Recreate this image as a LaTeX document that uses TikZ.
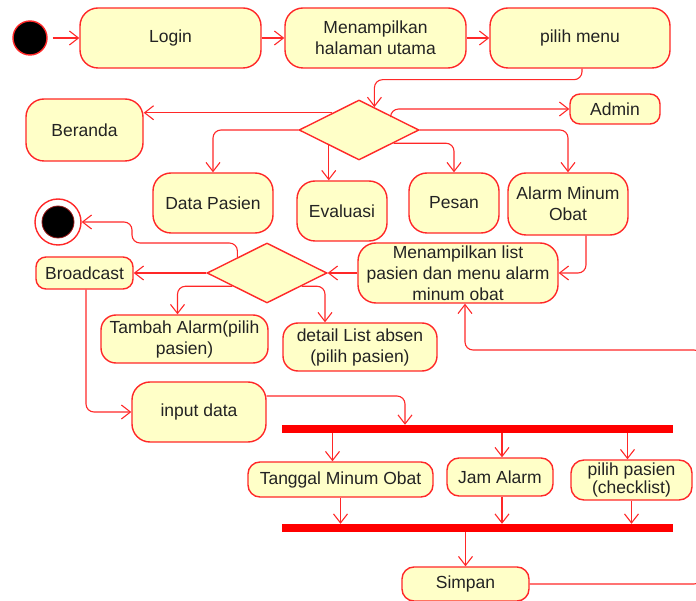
\documentclass[tikz,border=0pt]{standalone}
\usepackage{fontspec}
\setmainfont{Liberation Sans}
\usetikzlibrary{shapes.geometric,arrows.meta}
\definecolor{umlfill}{RGB}{255,255,200}
\definecolor{umlline}{RGB}{255,40,40}
\definecolor{umltext}{RGB}{35,35,35}
\begin{document}
\begin{tikzpicture}[x=1pt,y=-1pt,
  font=\fontsize{17.5}{21}\selectfont, text=umltext,
  act/.style={rectangle, rounded corners=18pt, draw=umlline, line width=1.4pt, fill=umlfill, inner sep=0pt, align=center},
  choice/.style={diamond, draw=umlline, line width=1.4pt, fill=umlfill, inner sep=0pt, minimum width=120pt, minimum height=60pt},
  bar/.style={rectangle, fill=red, inner sep=0pt, minimum width=391pt, minimum height=8pt},
  flow/.style={draw=umlline, line width=1.1pt, rounded corners=8pt, -{Straight Barb[length=9pt,width=14pt]}}]
\useasboundingbox (0,0) rectangle (696,601);
\clip (0,0) rectangle (696,601);
\node[circle, fill=black, draw=umlline, line width=1.4pt, minimum size=34pt] (start) at (30,38){};
\node[act, minimum width=181pt, minimum height=60pt] (login) at (170.5,38){Login};
\node[act, minimum width=181pt, minimum height=60pt] (tampil) at (375.5,38){Menampilkan\\halaman utama};
\node[act, minimum width=180pt, minimum height=60pt] (menu) at (580,38){pilih menu};
\node[choice] (pilihan) at (359,130){};
\node[act, minimum width=117pt, minimum height=62pt] (beranda) at (84.5,130){Beranda};
\node[act, rounded corners=10pt, minimum width=90pt, minimum height=30pt] (admin) at (615,109){Admin};
\node[act, minimum width=120pt, minimum height=60pt] (pasien) at (213,203){Data Pasien};
\node[act, minimum width=90pt, minimum height=60pt] (evaluasi) at (342,211){Evaluasi};
\node[act, minimum width=90pt, minimum height=60pt] (pesan) at (454,203){Pesan};
\node[act, minimum width=120pt, minimum height=62pt] (alarm) at (568,204){Alarm Minum\\Obat};
\node[act, minimum width=200pt, minimum height=60pt] (listmenu) at (458,273){Menampilkan list\\pasien dan menu alarm\\minum obat};
\node[choice] (pilihan2) at (267,273){};
\node[circle, fill=white, draw=umlline, line width=1.4pt, minimum size=46pt] (stop) at (58,222){};
\node[circle, fill=black, draw=umlline!60!black, line width=0.8pt, minimum size=32pt] (stopdot) at (stop){};
\node[act, rounded corners=10pt, minimum width=97pt, minimum height=32pt] (broadcast) at (84.5,273){Broadcast};
\node[act, rounded corners=15pt, minimum width=167pt, minimum height=48pt] (tambah) at (184.5,339){Tambah Alarm(pilih\\pasien)};
\node[act, rounded corners=15pt, minimum width=154pt, minimum height=48pt] (absen) at (360,347){detail List absen\\(pilih pasien)};
\node[act, minimum width=134pt, minimum height=60pt] (input) at (199,412){input data};
\node[bar] (fork) at (477.5,429){};
\node[act, rounded corners=12pt, minimum width=185pt, minimum height=35pt] (tanggal) at (340.5,479.5){Tanggal Minum Obat};
\node[act, rounded corners=12pt, minimum width=106pt, minimum height=38pt] (jam) at (500,477){Jam Alarm};
\node[act, rounded corners=13pt, minimum width=121pt, minimum height=40pt, font=\fontsize{17.5}{18}\selectfont] (checklist) at (631.5,480){pilih pasien\\(checklist)};
\node[bar] (join) at (477.5,528){};
\node[act, rounded corners=12pt, minimum width=127pt, minimum height=34pt] (simpan) at (465.5,584){Simpan};
% alur utama
\draw[flow, shorten <=5pt] (start) -- (login);
\draw[flow] (login) -- (tampil);
\draw[flow] (tampil) -- (menu);
\draw[flow] ([xshift=2pt]menu.south) -- ++(0,11) -| (pilihan.56);
\draw[flow] (pilihan.147) -- (pilihan.147 -| beranda.east);
\draw[flow] (pilihan.25) |- (admin.west);
\draw[flow] (pilihan.west) -| (pasien.north);
\draw[flow] (pilihan.207) -- (pilihan.207 |- evaluasi.north);
\draw[flow] (pilihan.339) -| (pesan.north);
\draw[flow] (pilihan.east) -| (alarm.north);
% alarm minum obat
\draw[flow] ([xshift=18pt]alarm.south) |- (listmenu.east);
\draw[flow] (listmenu.west) -- (pilihan2.east);
\draw[flow] (pilihan2.152) |- (132,243) |- (stop.east);
\draw[flow] (pilihan2.west) -- (broadcast.east);
\draw[flow] (pilihan2.201) -| ([xshift=-7pt]tambah.north);
\draw[flow] (pilihan2.339) -| ([xshift=-35pt]absen.north);
\draw[flow] ([xshift=1.5pt]broadcast.south) |- (input.west);
\draw[flow] ([yshift=16pt]input.east) -| ([xshift=-72.5pt]fork.north);
\draw[flow] ([xshift=-8pt]tanggal.north |- fork.south) -- ([xshift=-8pt]tanggal.north);
\draw[flow] ([xshift=2pt]jam.north |- fork.south) -- ([xshift=2pt]jam.north);
\draw[flow] ([xshift=-4pt]checklist.north |- fork.south) -- ([xshift=-4pt]checklist.north);
\draw[flow] (tanggal.south) -- (tanggal.south |- join.north);
\draw[flow] ([xshift=2pt]jam.south) -- ([xshift=2pt]jam.south |- join.north);
\draw[flow] (checklist.south) -- (checklist.south |- join.north);
\draw[flow] (join.south -| simpan.north) -- (simpan.north);
\draw[flow] (simpan.east) -| (702,350) -| ([xshift=7pt]listmenu.south);
\end{tikzpicture}
\end{document}
